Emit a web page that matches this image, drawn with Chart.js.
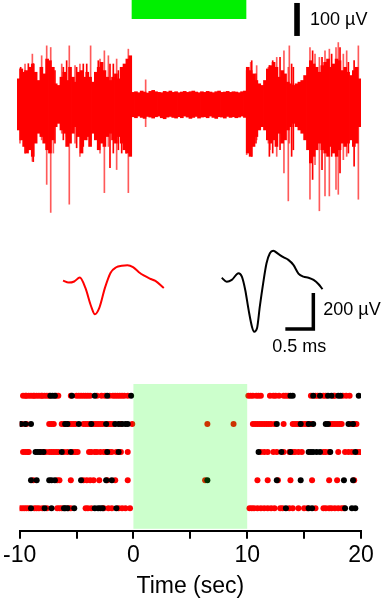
<!DOCTYPE html>
<html lang="en">
<head>
<meta charset="UTF-8">
<title>Unit recording</title>
<script src="https://cdn.jsdelivr.net/npm/chart.js@4.4.0/dist/chart.umd.min.js"></script>
<style>
    body { margin: 0; background: #fff; }
    .figure { position: relative; width: 382px; height: 600px; }
    .figure canvas { position: absolute; left: 0; }
    #traceChart { top: 0; }
    #waveChart { top: 230px; }
    #rasterChart { top: 378px; }
</style>
</head>
<body>
<div class="figure">
    <canvas id="traceChart" width="382" height="222"></canvas>
    <canvas id="waveChart" width="382" height="130"></canvas>
    <canvas id="rasterChart" width="382" height="222"></canvas>
</div>
<script>
// stimulation window (sec)
const stimStart = 0;
const stimEnd = 10;

// raw trace: envelope per 0.25 s bin (uV), -10 .. 20 s
const binWidth = 0.25;
const coreHigh = [75,105,95,100,110,120,95,70,110,90,135,130,110,60,55,80,95,70,110,80,
    65,95,100,80,95,80,65,95,110,125,100,80,70,80,90,75,110,120,135,145,
    34,36,33,38,35,32,37,40,36,34,33,37,35,38,34,36,33,35,37,34,
    36,38,35,33,36,34,37,35,33,36,38,34,35,37,34,36,35,33,36,38,
    110,100,90,70,60,55,70,105,115,125,110,80,100,90,65,60,55,60,65,70,
    85,110,130,120,110,95,115,125,135,110,120,135,130,100,110,95,85,100,110,75];
const coreLow = [-80,-110,-130,-150,-140,-160,-120,-90,-100,-120,-140,-150,-110,-70,-60,-80,-90,-130,-120,-90,
    -70,-100,-150,-110,-100,-130,-90,-110,-140,-120,-130,-100,-90,-110,-120,-100,-120,-140,-150,-160,
    -40,-43,-38,-42,-45,-39,-41,-44,-40,-38,-43,-46,-41,-39,-42,-44,-40,-43,-38,-41,
    -45,-42,-39,-44,-41,-40,-43,-38,-42,-45,-40,-41,-44,-39,-42,-40,-43,-41,-38,-42,
    -150,-160,-130,-100,-80,-70,-80,-110,-120,-110,-130,-90,-120,-110,-80,-70,-60,-70,-80,-90,
    -110,-140,-180,-160,-140,-120,-140,-150,-160,-130,-150,-160,-140,-120,-130,-120,-110,-130,-120,-70];

// single large deflections in the trace
const spikeTimes = [-9.74,-9.30,-8.66,-7.85,-7.41,-7.06,-6.83,-6.10,-5.44,-4.94,-4.51,-3.58,-2.76,-2.38,-2.03,-1.31,-0.29,1.22,
    10.03,10.38,10.90,11.92,12.06,12.65,13.28,13.66,13.75,15.55,15.99,16.37,16.86,17.24,17.82,18.02,18.46,18.75,19.77];
const spikeHigh = [105,120,150,145,175,170,80,120,175,115,120,175,135,160,145,135,165,72,
    100,125,115,110,100,140,160,110,175,170,150,140,160,165,170,185,150,160,175];
const spikeLow = [-120,-100,-175,-110,-245,-330,-150,-90,-305,-120,-160,-110,-150,-270,-130,-200,-270,-70,
    -155,-150,-110,-120,-140,-160,-210,-295,-120,-290,-185,-325,-280,-280,-260,-275,-170,-160,-290];

// smaller deflections that roughen the busy stretches
const minorTimes = [-9.68,-9.30,-9.01,-8.58,-6.69,-5.96,-5.67,-4.80,-4.22,-3.92,-2.91,-1.89,-1.60,-1.16,-0.87,-0.49,
    10.47,10.84,12.01,12.30,12.94,13.95,14.10,15.78,16.60,17.44,18.17,18.90,19.40];
const minorHigh = [110,100,121,121,100,110,130,110,120,120,130,120,120,100,100,110,
    130,90,115,130,140,120,110,160,140,150,170,125,130];
const minorLow = [-110,-150,-140,-176,-120,-110,-100,-134,-130,-110,-130,-194,-150,-140,-150,-150,
    -160,-120,-160,-150,-140,-160,-140,-230,-200,-160,-210,-150,-190];

// average waveforms (ms, uV)
const redTimes = [0,0.1,0.2,0.3,0.4,0.5,0.57,0.65,0.75,0.85,0.95,1.05,1.15,1.25,1.35,1.45,1.55,1.65,1.8];
const redWave = [52,41,47,69,11,-89,-135,-98,13,96,126,134,137,127,100,79,63,50,11];
const blackTimes = [0,0.09,0.18,0.30,0.36,0.42,0.48,0.54,0.58,0.63,0.68,0.74,0.80,0.86,0.92,1.01,1.10,1.19,1.28,1.37,1.46,1.55,1.64,1.73,1.80];
const blackWave = [68,46,56,93,74,0,-111,-204,-232,-213,-93,37,148,204,218,200,182,167,139,91,74,68,56,32,4];

// raster: spike times (sec) per trial, top trial first
const redTrials = [
    [-9.7,-9.5,-9.4,-9.2,-9.0,-8.8,-8.7,-8.5,-8.3,-8.1,-8.0,-7.8,-7.6,-7.4,-6.8,-6.6,-5.5,-5.0,-4.8,-4.6,-4.4,-4.2,-4.0,-3.8,-3.2,-2.8,-2.5,-2.1,-1.8,-1.6,-1.4,-1.2,-1.0,-0.8,-0.5,
     10.1,10.3,10.5,10.8,11.0,11.2,12.0,12.3,12.5,12.8,13.2,13.4,13.6,15.6,16.0,16.2,16.7,16.9,17.6,17.7,18.4,18.7,19.0],
    [-9.8,-9.4,-7.4,-7.2,-7.0,-6.3,-6.1,-5.7,-5.5,-5.3,-5.1,-4.4,-4.2,-4.0,-3.8,-3.5,-3.3,-3.1,-2.9,-2.7,-2.2,-2.0,-1.8,-1.1,-0.1,6.5,8.8,
     10.5,10.7,10.9,11.1,11.3,11.5,11.7,11.9,12.1,12.4,13.2,14.0,14.2,14.4,14.6,14.9,15.1,15.3,15.6,17.3,17.5,17.7,17.9,18.1,18.3,19.1,19.4,19.6],
    [-9.7,-9.5,-9.3,-9.2,-8.1,-7.9,-7.7,-7.4,-7.2,-7.0,-6.8,-6.6,-6.1,-5.8,-5.3,-5.1,-4.9,-3.9,-3.7,-3.4,-3.2,-2.9,-2.6,-2.4,-2.1,-1.9,-1.5,-1.1,-0.5,
     11.2,11.5,11.8,12.3,12.6,13.2,13.7,14.0,14.2,14.5,14.8,16.7,16.9,17.2,18.0,18.6,18.9,19.2,19.7,19.9],
    [-8.8,-6.7,-6.5,-5.5,-4.4,-4.1,-3.8,-3.5,-3.0,-2.3,-1.6,-0.5,6.3,10.9,11.8,12.7,13.8,15.7,17.2,17.9,19.4],
    [-10.0,-9.8,-9.6,-9.4,-9.2,-8.7,-8.5,-8.3,-8.0,-7.6,-6.7,-6.5,-6.3,-5.7,-5.5,-4.2,-4.0,-3.7,-2.6,-2.2,-1.9,-1.3,-1.0,-0.7,-0.3,
     10.2,10.4,10.6,10.9,11.2,11.5,11.8,12.1,12.4,12.9,13.1,13.7,14.0,14.5,15.0,15.3,16.0,16.7,16.9,17.2,17.4,17.7,18.0,18.3,18.5]
];
const blackTrials = [
    [-7.3,-7.1,-6.9,-5.4,-3.4,-2.3,-0.2,13.8,14.0,15.8,16.4,17.1,17.4,18.0,18.2,19.8],
    [-9.9,-9.5,-9.0,-6.0,-5.8,-4.8,-3.7,-2.4,-1.6,-1.3,-1.0,-0.7,-0.5,12.6,14.7,15.4,15.8,16.9,17.1,18.9,19.3],
    [-8.6,-8.4,-8.2,-7.9,-6.3,-5.5,-2.3,-1.3,11.0,13.0,13.8,15.4,15.6,15.8,16.1,16.4,17.3,19.5],
    [-9.0,-8.5,-7.4,-7.2,-6.9,-4.6,-2.4,-1.9,6.5,12.6,14.7,18.5,19.3],
    [-9.0,-7.8,-7.2,-6.1,-6.0,-5.8,-5.2,-3.4,-3.1,-2.9,-2.7,-1.5,13.4,15.4,15.7,18.6,19.2,19.5]
];
const tickLabels = [-10, 0, 10, 20];

const FONT = "'Liberation Sans', Arial, sans-serif";

// scale bars
const traceBarTime = 14.42, traceBarLevel = 205, traceBarSize = 100;
const blackOffset = 2.834;
const waveBarTime = 4.47, waveBarLevel = -217, waveBarV = 200, waveBarH = 0.5;

const noLegend = { legend: { display: false }, tooltip: { enabled: false } };

// ---- raw trace ----
const traceDecor = {
    id: 'traceDecor',
    afterDraw(chart) {
        const { ctx, scales: { x, y } } = chart;
        ctx.save();
        // light-on bar
        ctx.fillStyle = '#00f000';
        ctx.fillRect(x.getPixelForValue(stimStart), 0, x.getPixelForValue(stimEnd) - x.getPixelForValue(stimStart), 19);
        // 100 uV bar
        const bx = x.getPixelForValue(traceBarTime);
        const y0 = y.getPixelForValue(traceBarLevel);
        const y1 = y.getPixelForValue(traceBarLevel + traceBarSize);
        ctx.fillStyle = '#000';
        ctx.fillRect(bx - 2.8, y1, 5.6, y0 - y1);
        ctx.font = '18px ' + FONT;
        ctx.textBaseline = 'middle';
        ctx.fillText('100 µV', bx + 13, (y0 + y1) / 2 + 1);
        ctx.restore();
    }
};

const floatBars = (times, lows, highs) => times.map((t, i) => ({ x: t, y: [lows[i], highs[i]] }));

new Chart(document.getElementById('traceChart'), {
    type: 'bar',
    data: {
        datasets: [
            {
                data: floatBars(minorTimes, minorLow, minorHigh),
                backgroundColor: '#ff0000',
                barThickness: 1,
                grouped: false
            },
            {
                data: floatBars(spikeTimes, spikeLow, spikeHigh),
                backgroundColor: 'rgba(255, 0, 0, 0.65)',
                barThickness: 1,
                grouped: false
            },
            {
                data: floatBars(coreHigh.map((_, i) => -10 + binWidth * (i + 0.5)), coreLow, coreHigh),
                backgroundColor: '#ff0000',
                barThickness: 3,
                grouped: false
            }
        ]
    },
    options: {
        responsive: false,
        animation: false,
        layout: { padding: { left: 17, right: 21, top: 0, bottom: 0 } },
        scales: {
            x: { type: 'linear', min: -10, max: 20, offset: false, display: false },
            y: { min: -359, max: 314, display: false }
        },
        plugins: noLegend
    },
    plugins: [traceDecor]
});

// ---- waveforms ----
const waveDecor = {
    id: 'waveDecor',
    afterDraw(chart) {
        const { ctx, scales: { x, y } } = chart;
        const xv = x.getPixelForValue(waveBarTime);
        const xh = x.getPixelForValue(waveBarTime - waveBarH);
        const yb = y.getPixelForValue(waveBarLevel);
        const yt = y.getPixelForValue(waveBarLevel + waveBarV);
        ctx.save();
        ctx.strokeStyle = '#000';
        ctx.lineWidth = 3.5;
        ctx.lineJoin = 'miter';
        ctx.beginPath();
        ctx.moveTo(xh, yb);
        ctx.lineTo(xv, yb);
        ctx.lineTo(xv, yt);
        ctx.stroke();
        ctx.fillStyle = '#000';
        ctx.font = '18px ' + FONT;
        ctx.textBaseline = 'middle';
        ctx.textAlign = 'left';
        ctx.fillText('200 µV', xv + 10, (yb + yt) / 2 - 1);
        ctx.textAlign = 'center';
        ctx.fillText('0.5 ms', (xh + xv) / 2, yb + 18);
        ctx.restore();
    }
};

new Chart(document.getElementById('waveChart'), {
    type: 'line',
    data: {
        datasets: [
            {
                data: redTimes.map((t, i) => ({ x: t, y: redWave[i] })),
                borderColor: '#ff0000',
                borderWidth: 2,
                pointRadius: 0,
                cubicInterpolationMode: 'monotone'
            },
            {
                data: blackTimes.map((t, i) => ({ x: t + blackOffset, y: blackWave[i] })),
                borderColor: '#000',
                borderWidth: 2,
                pointRadius: 0,
                cubicInterpolationMode: 'monotone'
            }
        ]
    },
    options: {
        responsive: false,
        animation: false,
        layout: { padding: 0 },
        scales: {
            x: { type: 'linear', min: -1.125, max: 5.696, display: false },
            y: { min: -389, max: 333, display: false }
        },
        plugins: noLegend
    },
    plugins: [waveDecor]
});

// ---- raster ----
const stimShade = {
    id: 'stimShade',
    afterDatasetsDraw(chart) {
        const { ctx, chartArea, scales: { x } } = chart;
        const x0 = x.getPixelForValue(stimStart);
        const x1 = x.getPixelForValue(stimEnd);
        ctx.save();
        ctx.fillStyle = 'rgba(0, 255, 0, 0.2)';
        ctx.fillRect(x0, chartArea.top, x1 - x0, chartArea.bottom - chartArea.top - 2);
        ctx.restore();
    }
};

const toPoints = trials => trials.flatMap((times, k) => times.map(t => ({ x: t, y: trials.length - k })));

new Chart(document.getElementById('rasterChart'), {
    type: 'scatter',
    data: {
        datasets: [
            { data: toPoints(blackTrials), backgroundColor: '#000', borderWidth: 0, pointRadius: 3 },
            { data: toPoints(redTrials), backgroundColor: '#ff0000', borderWidth: 0, pointRadius: 3 }
        ]
    },
    options: {
        responsive: false,
        animation: false,
        layout: { padding: { left: 17, right: 21, top: 6, bottom: 0 } },
        scales: {
            x: {
                type: 'linear',
                min: -10,
                max: 20,
                border: { display: true, color: '#000', width: 2 },
                grid: { drawOnChartArea: false, drawTicks: true, tickLength: 8, color: '#000', lineWidth: 2 },
                ticks: {
                    stepSize: 5,
                    autoSkip: false,
                    maxRotation: 0,
                    padding: 3,
                    color: '#000',
                    font: { family: FONT, size: 23 },
                    callback: v => tickLabels.includes(v) ? String(v) : ''
                },
                title: {
                    display: true,
                    text: 'Time (sec)',
                    color: '#000',
                    font: { family: FONT, size: 23 },
                    padding: { top: 0, bottom: 0 }
                }
            },
            y: { min: 0.2, max: 5.42, display: false }
        },
        plugins: noLegend
    },
    plugins: [stimShade]
});
</script>
</body>
</html>
